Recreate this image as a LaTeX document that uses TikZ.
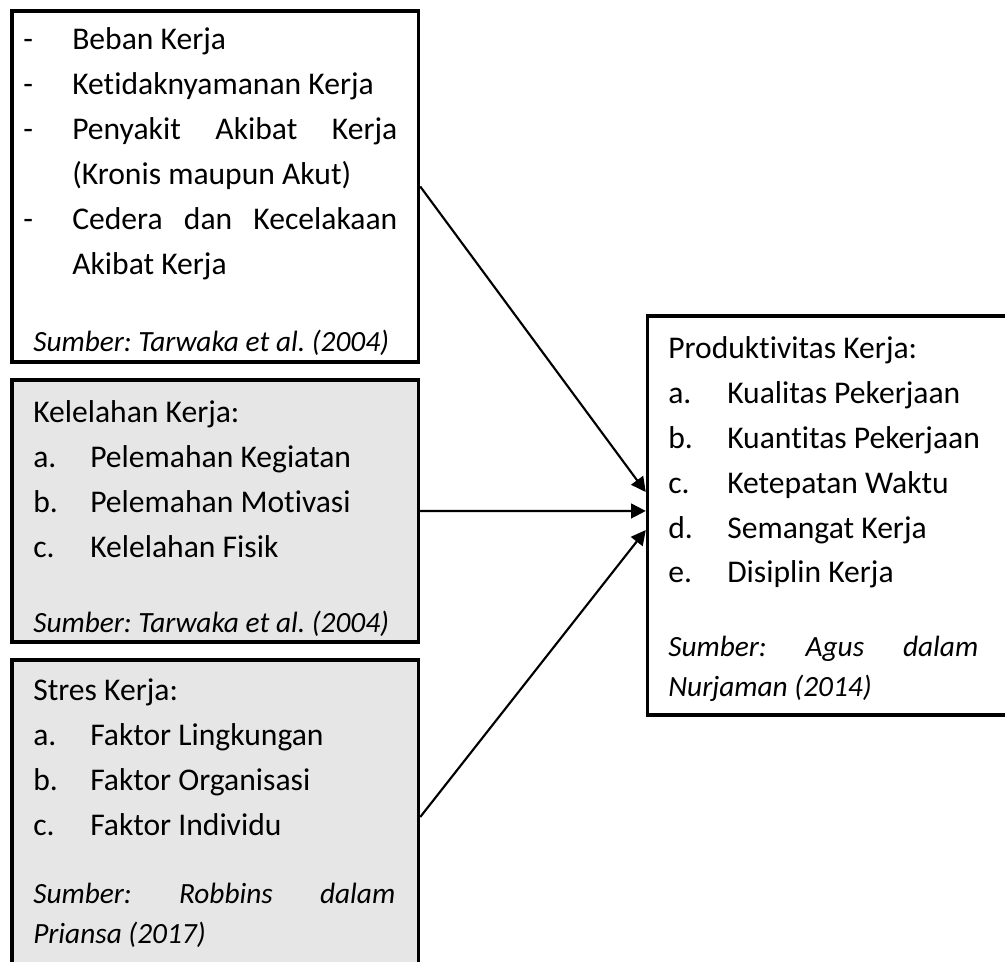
\documentclass[tikz,border=0pt]{standalone}
\usepackage{fontspec}
\setmainfont[Ligatures=NoCommon]{Carlito}
\usetikzlibrary{arrows.meta}
\definecolor{abuabu}{HTML}{E6E6E6}
\newlength\pxu
\setlength\pxu{0.75pt}
\frenchspacing

\begin{document}
\begin{tikzpicture}[x=0.75pt, y=-0.75pt,
        kotak/.style={draw, line width=2.6pt, rectangle, inner sep=0pt},
        teks/.style={anchor=base west, inner sep=0pt, font=\fontsize{23.7}{33.75}\selectfont},
        sumber/.style={teks, font=\fontsize{22}{30}\selectfont\itshape},
        panah/.style={-{Triangle[length=11pt, width=11pt]}, line width=1.6pt}]
        \useasboundingbox (0,0) rectangle (1005,962);
        \clip (0,0) rectangle (1005,962);

        % kotak-kotak
        \node[kotak, fill=white, minimum width=406.5\pxu, minimum height=351\pxu] (beban) at (215.25,186.5) {};
        \node[kotak, fill=abuabu, minimum width=406.5\pxu, minimum height=262\pxu] (lelah) at (215.25,511) {};
        \node[kotak, fill=abuabu, minimum width=406.5\pxu, minimum height=314\pxu] (stres) at (215.25,817) {};
        \node[kotak, fill=white, minimum width=382.5\pxu, minimum height=399\pxu] (produk) at (838.75,515.5) {};

        % faktor beban kerja
        \node[teks] (d1) at (23,50) {-};
        \node[teks] (d2) at (23,95) {-};
        \node[teks] (d3) at (23,140) {-};
        \node[teks] (d4) at (23,230) {-};
        \node[teks] (b1) at (72,50) {Beban Kerja};
        \node[teks] (b2) at (72,95) {Ketidaknyamanan Kerja};
        \node[teks] (b3) at (72,140) {\makebox[325\pxu][s]{Penyakit Akibat Kerja}};
        \node[teks] (b4) at (72,185) {(Kronis maupun Akut)};
        \node[teks] (b5) at (72,230) {\makebox[325\pxu][s]{Cedera dan Kecelakaan}};
        \node[teks] (b6) at (72,275) {Akibat Kerja};
        \node[sumber] (bs) at (33,351) {Sumber: Tarwaka et al. (2004)};

        % kelelahan kerja
        \node[teks] (k0) at (33,422) {Kelelahan Kerja:};
        \node[teks] (ka) at (33,467) {a.};
        \node[teks] (kb) at (33,512) {b.};
        \node[teks] (kc) at (33,557) {c.};
        \node[teks] (k1) at (90,467) {Pelemahan Kegiatan};
        \node[teks] (k2) at (90,512) {Pelemahan Motivasi};
        \node[teks] (k3) at (90,557) {Kelelahan Fisik};
        \node[sumber] (ks) at (33,632) {Sumber: Tarwaka et al. (2004)};

        % stres kerja
        \node[teks] (s0) at (33,700) {Stres Kerja:};
        \node[teks] (sa) at (33,745) {a.};
        \node[teks] (sb) at (33,790) {b.};
        \node[teks] (sc) at (33,835) {c.};
        \node[teks] (s1) at (90,745) {Faktor Lingkungan};
        \node[teks] (s2) at (90,790) {Faktor Organisasi};
        \node[teks] (s3) at (90,835) {Faktor Individu};
        \node[sumber] (ss) at (33,903) {\makebox[362\pxu][s]{Sumber: Robbins dalam}};
        \node[sumber] (ss2) at (33,943) {Priansa (2017)};

        % produktivitas kerja
        \node[teks] (p0) at (668,358) {Produktivitas Kerja:};
        \node[teks] (pa) at (668,403) {a.};
        \node[teks] (pb) at (668,448) {b.};
        \node[teks] (pc) at (668,493) {c.};
        \node[teks] (pd) at (668,538) {d.};
        \node[teks] (pe) at (668,582) {e.};
        \node[teks] (p1) at (727,403) {Kualitas Pekerjaan};
        \node[teks] (p2) at (727,448) {Kuantitas Pekerjaan};
        \node[teks] (p3) at (727,493) {Ketepatan Waktu};
        \node[teks] (p4) at (727,538) {Semangat Kerja};
        \node[teks] (p5) at (727,582) {Disiplin Kerja};
        \node[sumber] (ps) at (668,656) {\makebox[310\pxu][s]{Sumber: Agus dalam}};
        \node[sumber] (ps2) at (668,696) {Nurjaman (2014)};

        % panah
        \draw[panah] (beban.east) -- ([yshift=17.6pt]produk.west);
        \draw[panah] (lelah.east) -- ([yshift=3.4pt]produk.west);
        \draw[panah] (stres.east) -- ([yshift=-10.9pt]produk.west);
    \end{tikzpicture}
\end{document}
